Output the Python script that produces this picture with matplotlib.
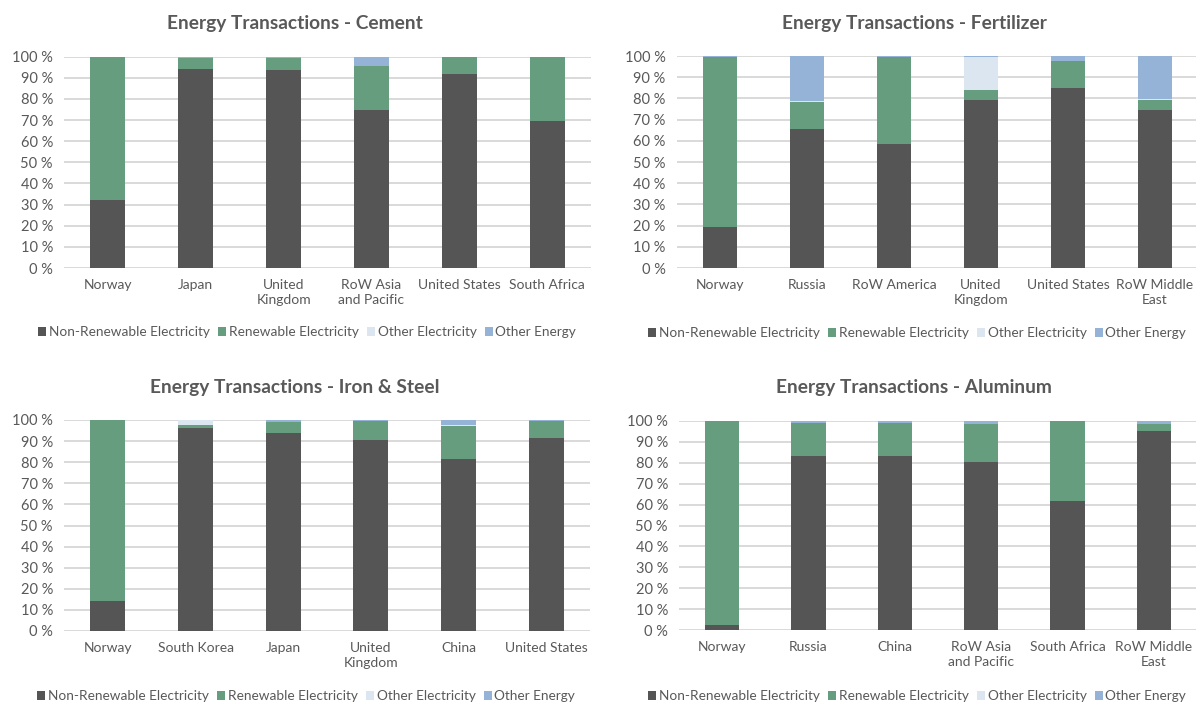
import matplotlib

matplotlib.use("Agg")
import matplotlib.pyplot as plt
from matplotlib.patches import Patch

plt.rcParams["font.family"] = ["Lato", "DejaVu Sans"]

# shares in percent, per industry
cement_countries = ["Norway", "Japan", "United\nKingdom", "RoW Asia\nand Pacific",
                    "United States", "South Africa"]
cement_nonrenew = [32.4, 94.3, 93.5, 74.9, 91.6, 69.5]
cement_renew = [67.3, 5.1, 6.0, 20.8, 8.2, 30.5]
cement_other_elec = [0.0, 0.0, 0.0, 0.0, 0.0, 0.0]
cement_other_energy = [0.3, 0.6, 0.5, 4.3, 0.2, 0.0]

fert_countries = ["Norway", "Russia", "RoW America", "United\nKingdom",
                  "United States", "RoW Middle\nEast"]
fert_nonrenew = [19.3, 65.6, 58.6, 79.3, 84.8, 74.3]
fert_renew = [80.2, 12.9, 41.1, 4.7, 12.8, 5.0]
fert_other_elec = [0.0, 0.5, 0.0, 15.7, 0.0, 0.4]
fert_other_energy = [0.5, 21.0, 0.3, 0.3, 2.4, 20.3]

steel_countries = ["Norway", "South Korea", "Japan", "United\nKingdom",
                   "China", "United States"]
steel_nonrenew = [14.2, 96.4, 93.8, 90.5, 81.5, 91.5]
steel_renew = [85.8, 1.1, 5.3, 9.0, 15.8, 8.2]
steel_other_elec = [0.0, 2.5, 0.0, 0.0, 0.4, 0.0]
steel_other_energy = [0.0, 0.0, 0.9, 0.5, 2.3, 0.3]

alu_countries = ["Norway", "Russia", "China", "RoW Asia\nand Pacific",
                 "South Africa", "RoW Middle\nEast"]
alu_nonrenew = [2.4, 83.3, 83.3, 80.6, 61.6, 95.1]
alu_renew = [97.4, 15.9, 15.9, 18.1, 38.4, 3.6]
alu_other_elec = [0.0, 0.0, 0.0, 0.0, 0.0, 0.0]
alu_other_energy = [0.2, 0.8, 0.8, 1.3, 0.0, 1.3]

series_names = ["Non-Renewable Electricity", "Renewable Electricity",
                "Other Electricity", "Other Energy"]
series_colors = ["#555555", "#669d7f", "#dce6f1", "#95b3d7"]

TEXT = "#595959"
GRID = "#d9d9d9"
W, H = 1196, 702


def px_axes(fig, x0, x1, y_top, y_bot):
    return fig.add_axes([x0 / W, 1 - y_bot / H, (x1 - x0) / W, (y_bot - y_top) / H])


def stacked(ax, countries, layers):
    x = range(len(countries))
    bottom = [0.0] * len(countries)
    for values, color in zip(layers, series_colors):
        ax.bar(x, values, width=0.4, bottom=bottom, color=color, zorder=3)
        bottom = [b + v for b, v in zip(bottom, values)]

    ax.set_xlim(-0.5, len(countries) - 0.5)
    ax.set_ylim(0, 100)
    ax.set_yticks(range(0, 101, 10))
    ax.set_yticklabels([f"{v} %" for v in range(0, 101, 10)])
    ax.set_xticks(list(x))
    ax.set_xticklabels(countries, linespacing=1.25)
    ax.tick_params(length=0, colors=TEXT, labelsize=10)
    ax.tick_params(axis="x", pad=8)
    ax.tick_params(axis="y", pad=8)
    for label in ax.get_yticklabels():
        label.set_fontsize(10.5)
    ax.grid(axis="y", color=GRID, linewidth=1.4, zorder=0)
    ax.set_axisbelow(True)
    for spine in ax.spines.values():
        spine.set_visible(False)


fig = plt.figure(figsize=(W / 100, H / 100), dpi=100)

panels = [
    ("Energy Transactions - Cement", cement_countries,
     [cement_nonrenew, cement_renew, cement_other_elec, cement_other_energy],
     (64, 591, 56.7, 268), (295, 24), (307, 332)),
    ("Energy Transactions - Fertilizer", fert_countries,
     [fert_nonrenew, fert_renew, fert_other_elec, fert_other_energy],
     (676.5, 1198.5, 56, 268), (914, 24), (917, 333)),
    ("Energy Transactions - Iron & Steel", steel_countries,
     [steel_nonrenew, steel_renew, steel_other_elec, steel_other_energy],
     (64, 590, 420, 631), (295, 388), (306, 696)),
    ("Energy Transactions - Aluminum", alu_countries,
     [alu_nonrenew, alu_renew, alu_other_elec, alu_other_energy],
     (679, 1197, 421, 630), (914, 388), (917, 696)),
]

handles = [Patch(facecolor=c, label=n) for n, c in zip(series_names, series_colors)]

for title, countries, layers, box, title_xy, legend_xy in panels:
    ax = px_axes(fig, *box)
    stacked(ax, countries, layers)
    fig.text(title_xy[0] / W, 1 - title_xy[1] / H, title, ha="center", va="center",
             fontsize=13.8, fontweight="bold", color=TEXT)
    fig.legend(handles=handles, loc="center",
               bbox_to_anchor=(legend_xy[0] / W, 1 - legend_xy[1] / H),
               ncol=4, frameon=False, fontsize=9.8, labelcolor=TEXT,
               handlelength=0.6, handleheight=0.6, handletextpad=0.2,
               columnspacing=0.6, borderaxespad=0)

fig.savefig("out.png", dpi=100, facecolor="white")
